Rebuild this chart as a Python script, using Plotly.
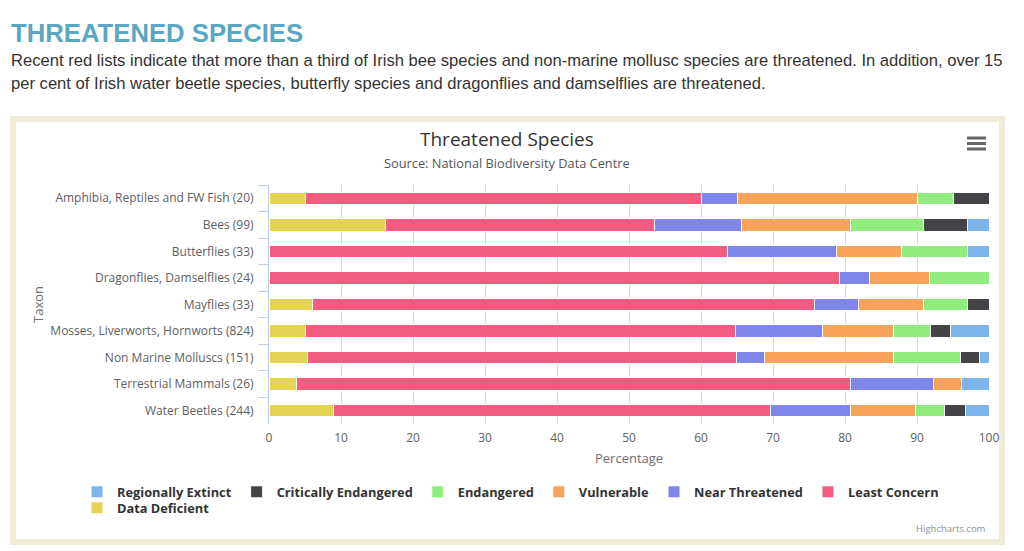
import plotly.graph_objects as go

# ---------------- data (species counts per red-list category) ----------------
taxa = [
    "Amphibia, Reptiles and FW Fish (20)",
    "Bees (99)",
    "Butterflies (33)",
    "Dragonflies, Damselflies (24)",
    "Mayflies (33)",
    "Mosses, Liverworts, Hornworts (824)",
    "Non Marine Molluscs (151)",
    "Terrestrial Mammals (26)",
    "Water Beetles (244)",
]
data_deficient = [1, 16, 0, 0, 2, 42, 8, 1, 22]
least_concern = [11, 37, 21, 19, 23, 492, 90, 20, 148]
near_threatened = [1, 12, 5, 1, 2, 99, 6, 3, 27]
vulnerable = [5, 15, 3, 2, 3, 82, 27, 1, 22]
endangered = [1, 10, 3, 2, 2, 42, 14, 0, 10]
critically_endangered = [1, 6, 0, 0, 1, 23, 4, 0, 7]
regionally_extinct = [0, 3, 1, 0, 0, 44, 2, 1, 8]

x_ticks = [0, 10, 20, 30, 40, 50, 60, 70, 80, 90, 100]

series = [
    ("Data Deficient", data_deficient, "#e4d354", "legend2"),
    ("Least Concern", least_concern, "#f15c80", "legend"),
    ("Near Threatened", near_threatened, "#8085e9", "legend"),
    ("Vulnerable", vulnerable, "#f7a35c", "legend"),
    ("Endangered", endangered, "#90ed7d", "legend"),
    ("Critically Endangered", critically_endangered, "#434348", "legend"),
    ("Regionally Extinct", regionally_extinct, "#7cb5ec", "legend"),
]

# ---------------- layout geometry (page pixels) ----------------
OFF = 8                     # default body margin of the html page
FW, FH = 1024 - OFF, 551 - OFF
PL, PT = 269, 185           # plot area top-left on the page
PW, PH = 720, 239
L, T = PL - OFF, PT - OFF
R = FW - L - PW
B = FH - T - PH


def px(x):
    return (x - PL) / PW


def py(y):
    return (PT + PH - y) / PH


CHART_FONT = "Open Sans, Lucida Grande, DejaVu Sans, sans-serif"

fig = go.Figure()
for name, vals, color, leg in series:
    fig.add_trace(go.Bar(
        name=name,
        y=taxa,
        x=vals,
        orientation="h",
        legend=leg,
        marker=dict(color=color, line=dict(color="#ffffff", width=1)),
    ))

shapes = [
    # beige container frame
    dict(type="rect", xref="paper", yref="paper", layer="below",
         x0=px(13), x1=px(1002), y0=py(119), y1=py(542),
         line=dict(color="#f0ebd9", width=6), fillcolor="rgba(0,0,0,0)"),
]
# hamburger menu icon
for yc in (138, 143.5, 149):
    shapes.append(dict(type="rect", xref="paper", yref="paper",
                       x0=px(967), x1=px(986), y0=py(yc - 1.5), y1=py(yc + 1.5),
                       line=dict(width=0), fillcolor="#666666"))

annotations = [
    dict(text="<b>THREATENED SPECIES</b>", x=px(9), y=py(33), xanchor="left", yanchor="middle",
         font=dict(family="Liberation Sans Narrow, Liberation Sans, Arial", size=25.7, color="#5ba7c3")),
    dict(text="Recent red lists indicate that more than a third of Irish bee species and non-marine mollusc species are threatened. In addition, over 15",
         x=px(9), y=py(60), xanchor="left", yanchor="middle",
         font=dict(family="Liberation Sans, Arial", size=16.6, color="#333333")),
    dict(text="per cent of Irish water beetle species, butterfly species and dragonflies and damselflies are threatened.",
         x=px(9), y=py(83), xanchor="left", yanchor="middle",
         font=dict(family="Liberation Sans, Arial", size=16.6, color="#333333")),
    dict(text="Threatened Species", x=px(507), y=py(139), xanchor="center", yanchor="middle",
         font=dict(family=CHART_FONT, size=19, color="#333333")),
    dict(text="Source: National Biodiversity Data Centre", x=px(507), y=py(163), xanchor="center", yanchor="middle",
         font=dict(family=CHART_FONT, size=12.8, color="#555555")),
    dict(text="Taxon", x=px(38), y=py(304), xanchor="center", yanchor="middle", textangle=-90,
         font=dict(family=CHART_FONT, size=13, color="#707070")),
    dict(text="Percentage", x=px(629), y=py(458), xanchor="center", yanchor="middle",
         font=dict(family=CHART_FONT, size=13, color="#707070")),
    dict(text="Highcharts.com", x=px(988), y=py(528), xanchor="right", yanchor="middle",
         font=dict(family=CHART_FONT, size=9.5, color="#909090")),
]
for a in annotations:
    a.update(xref="paper", yref="paper", showarrow=False)

legend_font = dict(family=CHART_FONT, size=12.8, color="#333333", weight="bold")

fig.update_layout(
    width=FW, height=FH,
    margin=dict(l=L, r=R, t=T, b=B, pad=0),
    paper_bgcolor="#ffffff", plot_bgcolor="#ffffff",
    barmode="stack", barnorm="percent", bargap=0.53,
    font=dict(family=CHART_FONT, size=12, color="#606060"),
    showlegend=True,
    legend=dict(orientation="h", traceorder="reversed",
                x=px(77), xanchor="left", y=py(492), yanchor="middle",
                bgcolor="rgba(0,0,0,0)",
                font=legend_font, itemclick=False, itemdoubleclick=False),
    legend2=dict(orientation="h",
                 x=px(77), xanchor="left", y=py(508), yanchor="middle",
                 bgcolor="rgba(0,0,0,0)",
                 font=legend_font, itemclick=False, itemdoubleclick=False),
    xaxis=dict(range=[0, 100], tickvals=x_ticks, ticktext=[str(v) for v in x_ticks],
               showgrid=True, gridcolor="#d8d8d8", gridwidth=1,
               zeroline=False, showline=False, ticks="", ticklabelstandoff=5,
               tickfont=dict(family=CHART_FONT, size=12, color="#606060")),
    yaxis=dict(categoryorder="array", categoryarray=taxa, autorange="reversed",
               showgrid=False, zeroline=False,
               showline=True, linecolor="#c0d0e0", linewidth=1,
               ticks="outside", tickson="boundaries", ticklen=10, tickcolor="#c0d0e0",
               ticklabelstandoff=12,
               tickfont=dict(family=CHART_FONT, size=12, color="#606060")),
    shapes=shapes,
    annotations=annotations,
)

fig.write_html("out.html")
